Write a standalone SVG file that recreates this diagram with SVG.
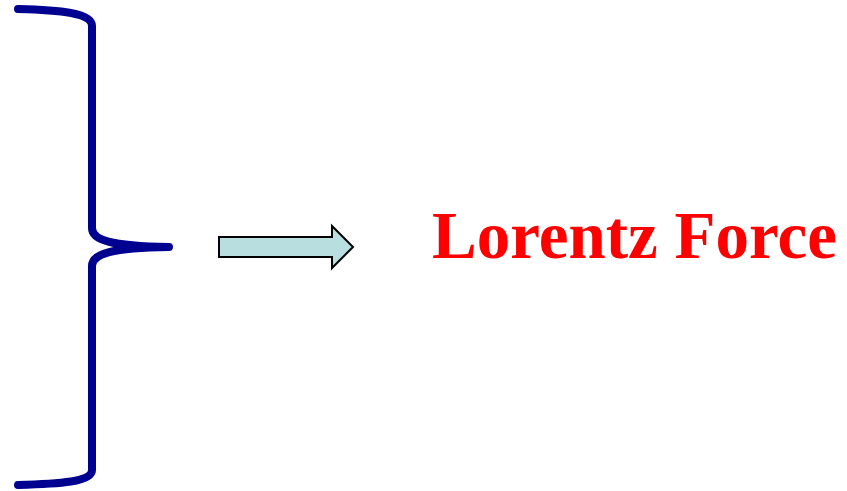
<svg xmlns="http://www.w3.org/2000/svg" width="847" height="491" viewBox="0 0 847 491">
<style>
.brace{fill:none;stroke:#000090;stroke-width:8;stroke-linecap:round;stroke-linejoin:round}
.arrow{fill:#B8DEE0;stroke:#000;stroke-width:2}
.label{font-family:"Liberation Serif","Times New Roman",serif;font-weight:bold;font-size:67px;fill:#FF0000}
</style>
<rect width="847" height="491" fill="#fff"/>
<g id="brace">
<path class="brace" d="M18 9 C60 10 92 13 92 26 L92 228 C92 240 110 246 169 247 C110 248 92 254 92 266 L92 470 C92 482 60 484 18 485"/>
</g>
<g id="connectors">
<path class="arrow" d="M219 237 L332 237 L332 226 L353 247 L332 268 L332 257 L219 257 Z"/>
</g>
<g id="lorentz">
<text class="label" x="432" y="258">Lorentz Force</text>
</g>
</svg>
